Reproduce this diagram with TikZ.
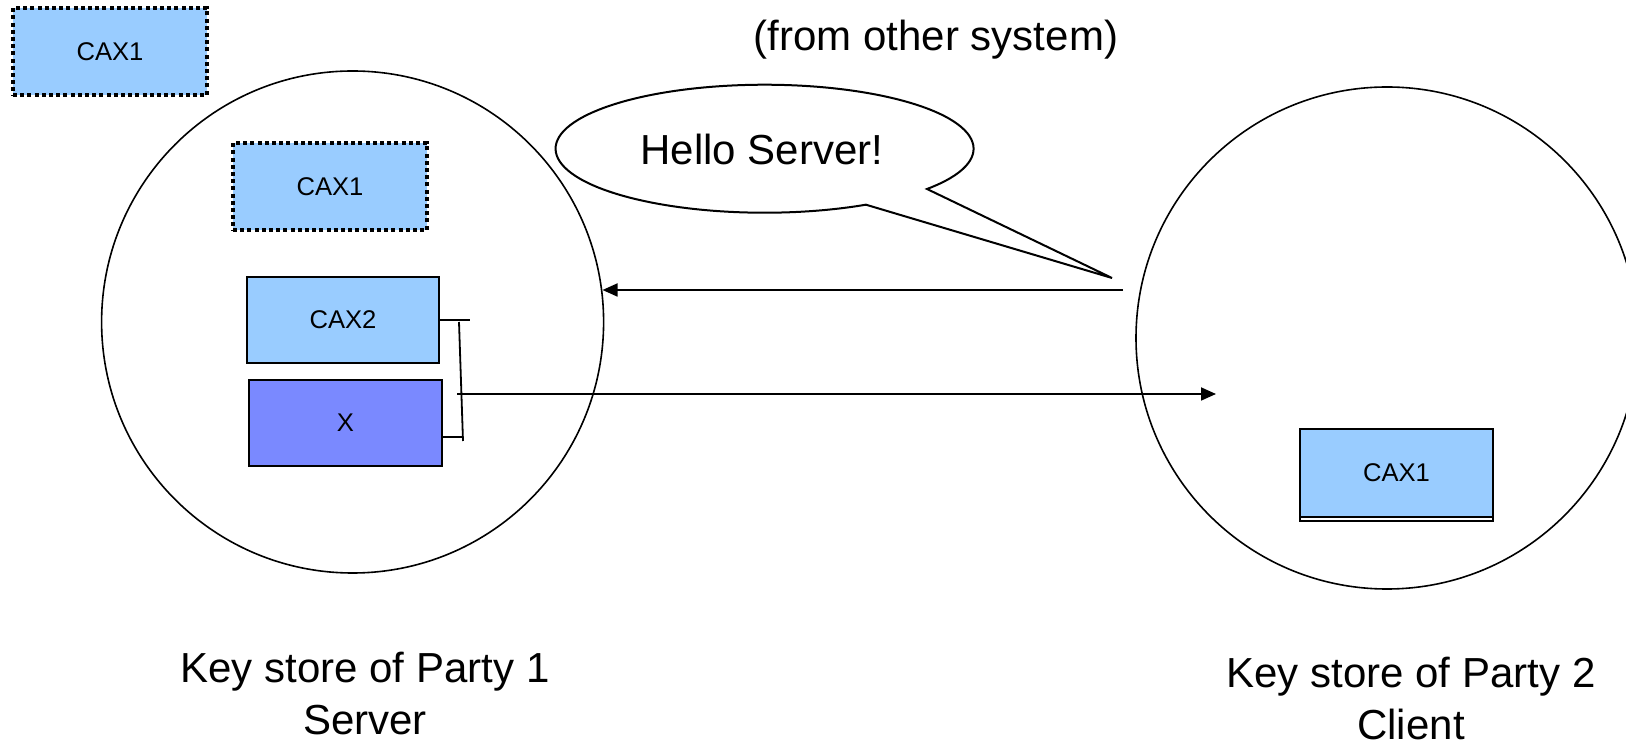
\documentclass[tikz,border=0pt]{standalone}
\usepackage{fontspec}
\setmainfont{Liberation Sans}
\usetikzlibrary{arrows.meta}
\definecolor{lblue}{RGB}{153,204,255}
\definecolor{xblue}{RGB}{122,137,255}
\begin{document}
\begin{tikzpicture}[x=0.5pt,y=-0.5pt,
  keybox/.style={draw=black, line width=1pt, inner sep=0pt, fill=lblue,
    font=\fontsize{12.8}{15}\selectfont},
  dotbox/.style={keybox, line width=2.2pt, dash pattern=on 2pt off 1.6pt},
  store/.style={draw=black, circle, line width=0.8pt, inner sep=0pt, minimum size=251pt},
  conn/.style={draw=black, line width=0.9pt},
  arr/.style={conn, -{Triangle[length=7.5pt,width=6.5pt]}},
  big/.style={font=\fontsize{21}{26}\selectfont, inner sep=0pt}
]
\useasboundingbox (0,0) rectangle (1626,747);

% key stores
\node[store] (p1) at (352.6,322) {};
\node[store] (p2) at (1387,338) {};

% boxes
\node[dotbox, minimum width=97pt, minimum height=43.5pt] (cax1a) at (110,51.5) {CAX1};
\node[dotbox, minimum width=97pt, minimum height=43.5pt] (cax1b) at (330,186.5) {CAX1};
\node[keybox, minimum width=96pt, minimum height=43pt] (cax2) at (343,320) {CAX2};
\node[keybox, fill=xblue, minimum width=96.5pt, minimum height=43pt] (xbox) at (345.5,423) {X};
\node[keybox, fill=white, minimum width=96.5pt, minimum height=44pt] (cax1s) at (1396.5,477) {};
\node[keybox, minimum width=96.5pt, minimum height=44pt] (cax1c) at (1396.5,473) {CAX1};

% bracket
\coordinate (bt) at (459,322);
\coordinate (bb) at (463,441);
\draw[conn] (cax2.east) -- ++(30,0);
\draw[conn] ([yshift=-7pt]xbox.east) -- ++(19,0);
\draw[conn] (bt) -- (bb);

% arrows
\coordinate (a1s) at (1123,290);
\draw[arr] (a1s) -- (a1s -| p1.7);
\coordinate (a2s) at (457,394);
\coordinate (a2e) at (1216,394);
\draw[arr] (a2s) -- (a2e);

% callout
\draw[line width=1pt, fill=white] (927,189)
  arc[start angle=-39, end angle=299, x radius=104.5pt, y radius=32pt]
  -- (1112,278) -- cycle;
\node[big, anchor=base] (hello) at (762,165) {Hello Server!};

% texts
\node[big, anchor=base] (from) at (936,51) {(from other system)};
\node[big, anchor=north, align=center] (l1) at (365,652) {Key store of Party 1\\Server};
\node[big, anchor=north, align=center] (l2) at (1411,657) {Key store of Party 2\\Client};
\end{tikzpicture}
\end{document}
